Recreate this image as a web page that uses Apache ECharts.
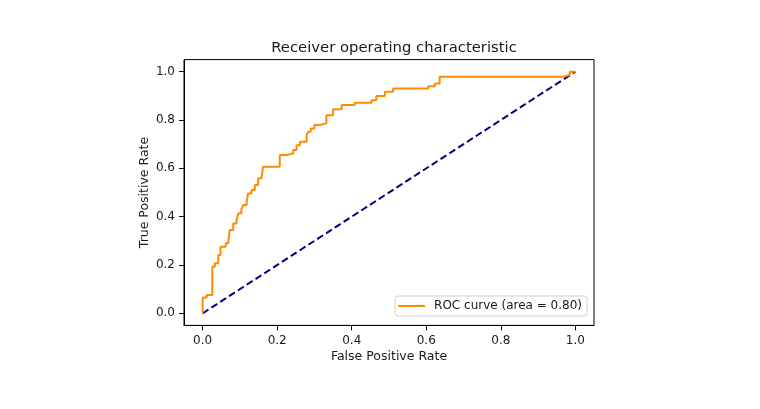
<!DOCTYPE html>
<html><head><meta charset="utf-8">
<script src="https://cdn.jsdelivr.net/npm/echarts@6/dist/echarts.min.js"></script>
<style>html,body{margin:0;padding:0;background:#fff}#c{width:760px;height:409px}</style>
</head><body><div id="c"></div>
<script>
const title = 'Receiver operating characteristic';
const xName = 'False Positive Rate';
const yName = 'True Positive Rate';
const legendLabel = 'ROC curve (area = 0.80)';
const tickValues = [0, 0.2, 0.4, 0.6, 0.8, 1.0];
const fpr = [0,0,0.011,0.011,0.026,0.026,0.033,0.033,0.042,0.042,0.048,0.048,0.062,0.062,0.069,0.069,0.073,0.073,0.082,0.082,0.091,0.091,0.096,0.096,0.104,0.104,0.109,0.109,0.118,0.118,0.122,0.122,0.131,0.131,0.14,0.14,0.149,0.149,0.158,0.158,0.162,0.162,0.207,0.207,0.225,0.225,0.243,0.243,0.252,0.252,0.261,0.261,0.279,0.279,0.283,0.283,0.29,0.29,0.30,0.30,0.314,0.314,0.332,0.332,0.35,0.35,0.373,0.373,0.408,0.408,0.453,0.453,0.466,0.466,0.489,0.489,0.511,0.511,0.605,0.605,0.623,0.623,0.636,0.636,0.967,0.967,0.985,0.985,1];
const tpr = [0,0.065,0.065,0.076,0.076,0.193,0.193,0.207,0.207,0.241,0.241,0.276,0.276,0.29,0.29,0.30,0.30,0.345,0.345,0.372,0.372,0.386,0.386,0.414,0.414,0.431,0.431,0.448,0.448,0.462,0.462,0.496,0.496,0.51,0.51,0.531,0.531,0.559,0.559,0.566,0.566,0.607,0.607,0.655,0.655,0.662,0.662,0.676,0.676,0.696,0.696,0.71,0.71,0.738,0.738,0.751,0.751,0.765,0.765,0.779,0.779,0.786,0.786,0.82,0.82,0.845,0.845,0.862,0.862,0.871,0.871,0.882,0.882,0.899,0.899,0.917,0.917,0.93,0.93,0.94,0.94,0.951,0.951,0.979,0.979,0.986,0.986,1,1];
const chanceX = [0, 1];
const chanceY = [0, 1];

const font = 'DejaVu Sans';
const txt = '#1a1a1a';
const chart = echarts.init(document.getElementById('c'));
const fmt = v => v.toFixed(1);
chart.setOption({
  animation: false,
  title: {text: title, left: 389, top: 36, textAlign: 'center',
    textStyle: {fontFamily: font, fontSize: 14.8, fontWeight: 'normal', color: txt}},
  grid: {left: 184, right: 166, top: 59.6, bottom: 83.6, show: true, borderColor: '#000', borderWidth: 1},
  legend: {right: 173, top: 296, orient: 'horizontal', icon: 'rect', itemWidth: 27, itemHeight: 2, itemGap: 8,
    padding: [4, 5, 4, 3], borderColor: '#d0d0d0', borderWidth: 1, borderRadius: 3, backgroundColor: '#fff',
    textStyle: {fontFamily: font, fontSize: 12, color: txt, padding: [0, 0, 0, 4]},
    data: [legendLabel]},
  xAxis: {type: 'value', min: -0.05, max: 1.05, name: xName, nameLocation: 'middle', nameGap: 25, nameMoveOverlap: false,
    nameTextStyle: {fontFamily: font, fontSize: 12.5, color: txt},
    axisLine: {show: true, onZero: false, lineStyle: {color: '#000'}},
    axisTick: {show: true, length: 5, customValues: tickValues, lineStyle: {color: '#000'}},
    axisLabel: {customValues: tickValues, formatter: fmt, margin: 9, fontFamily: font, fontSize: 12, color: txt},
    splitLine: {show: false}},
  yAxis: {type: 'value', min: -0.05, max: 1.05, name: yName, nameLocation: 'middle', nameGap: 33, nameMoveOverlap: false,
    nameTextStyle: {fontFamily: font, fontSize: 12.5, color: txt},
    axisLine: {show: true, onZero: false, lineStyle: {color: '#000'}},
    axisTick: {show: true, length: 5, customValues: tickValues, lineStyle: {color: '#000'}},
    axisLabel: {customValues: tickValues, formatter: fmt, margin: 9, fontFamily: font, fontSize: 12, color: txt},
    splitLine: {show: false}},
  series: [
    {name: legendLabel, type: 'line', data: fpr.map((x, i) => [x, tpr[i]]), showSymbol: false, symbol: 'none',
      lineStyle: {color: '#ff8c00', width: 2}, itemStyle: {color: '#ff8c00'}, z: 3},
    {name: 'chance', type: 'line', data: chanceX.map((x, i) => [x, chanceY[i]]), showSymbol: false, symbol: 'none',
      lineStyle: {color: '#000080', width: 2, type: [7, 3.5]}, z: 2}
  ]
});
</script></body></html>
